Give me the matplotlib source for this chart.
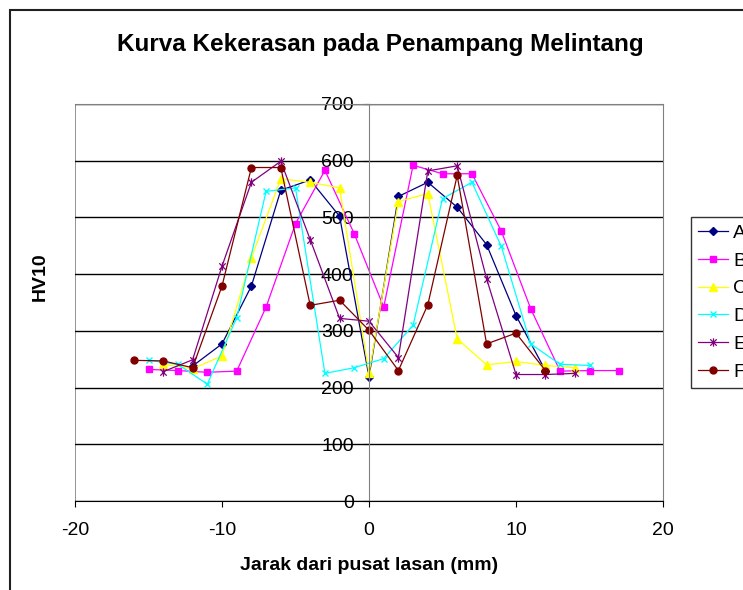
import numpy as np
import matplotlib
matplotlib.use("Agg")
import matplotlib.pyplot as plt
from matplotlib.path import Path
from matplotlib.patches import Rectangle

plt.rcParams['font.family'] = ['Liberation Sans', 'DejaVu Sans']
plt.rcParams['axes.unicode_minus'] = False

# hardness readings (HV10) vs distance from weld centre (mm)
x_a = [-12, -10, -8, -6, -4, -2, 0, 2, 4, 6, 8, 10, 12]
hv_a = [238, 277, 379, 548, 566, 502, 219, 537, 562, 518, 452, 327, 230]

x_b = [-15, -13, -11, -9, -7, -5, -3, -1, 1, 3, 5, 7, 9, 11, 13, 15, 17]
hv_b = [232, 230, 227, 229, 342, 489, 583, 471, 342, 592, 577, 577, 476, 339, 229, 230, 230]

x_c = [-14, -12, -10, -8, -6, -4, -2, 0, 2, 4, 6, 8, 10, 12, 14]
hv_c = [241, 233, 256, 429, 568, 562, 552, 225, 528, 542, 286, 240, 246, 239, 235]

x_d = [-15, -13, -11, -9, -7, -5, -3, -1, 1, 3, 5, 7, 9, 11, 13, 15]
hv_d = [248, 241, 206, 323, 546, 552, 225, 235, 251, 310, 533, 562, 449, 277, 241, 239]

x_e = [-14, -12, -10, -8, -6, -4, -2, 0, 2, 4, 6, 8, 10, 12, 14]
hv_e = [228, 249, 414, 562, 599, 461, 322, 317, 253, 582, 591, 392, 223, 223, 225]

x_f = [-16, -14, -12, -10, -8, -6, -4, -2, 0, 2, 4, 6, 8, 10, 12]
hv_f = [248, 247, 235, 379, 588, 588, 345, 354, 301, 230, 346, 574, 277, 296, 230]

# excel style asterisk marker: x with a vertical bar
star = Path([(-1, -1), (1, 1), (-1, 1), (1, -1), (0, -1.3), (0, 1.3)],
            [Path.MOVETO, Path.LINETO, Path.MOVETO, Path.LINETO, Path.MOVETO, Path.LINETO])

W, H = 743, 590
fig = plt.figure(figsize=(W / 100, H / 100), dpi=100)
ax = fig.add_axes([75 / W, 1 - 501 / H, (663 - 75) / W, (501 - 104) / H])

lw = 0.9
ax.plot(x_a, hv_a, color='#000080', marker='D', ms=4, lw=lw, label='A')
ax.plot(x_b, hv_b, color='#FF00FF', marker='s', ms=5, lw=lw, label='B')
ax.plot(x_c, hv_c, color='#FFFF00', marker='^', ms=6, lw=lw, label='C')
ax.plot(x_d, hv_d, color='#00FFFF', marker='x', ms=5, mew=1, lw=lw, label='D')
ax.plot(x_e, hv_e, color='#800080', marker=star, ms=6, mew=0.9, lw=lw, label='E')
ax.plot(x_f, hv_f, color='#800000', marker='o', ms=5, lw=lw, label='F')

ax.set_xlim(-20, 20)
ax.set_ylim(0, 700)
ax.set_xticks([-20, -10, 0, 10, 20])
ax.set_yticks(np.arange(0, 701, 100))
ax.yaxis.grid(True, color='black', lw=1)
ax.set_axisbelow(True)

ax.spines['left'].set_position(('data', 0))
ax.spines['left'].set_color('#808080')
ax.spines['right'].set_color('#808080')
ax.spines['top'].set_color('#808080')
ax.spines['bottom'].set_color('black')
ax.axvline(-20, color='#808080', lw=1.2, zorder=0)

ax.tick_params(axis='x', direction='out', length=4, pad=11, labelsize=14)
ax.tick_params(axis='y', direction='out', length=4, pad=7, labelsize=14, color='black')

fig.text(380 / W, 1 - 44 / H, 'Kurva Kekerasan pada Penampang Melintang',
         ha='center', va='center', fontsize=17.5, fontweight='bold')
fig.text(369 / W, 1 - 566 / H, 'Jarak dari pusat lasan (mm)',
         ha='center', va='center', fontsize=14, fontweight='bold')
fig.text(40 / W, 1 - 277 / H, 'HV10', rotation=90,
         ha='center', va='center', fontsize=14, fontweight='bold')

leg = fig.legend(loc='upper left', bbox_to_anchor=(691 / W, 1 - 217 / H),
                 frameon=True, fancybox=False, fontsize=14, borderpad=0.38,
                 labelspacing=0.52, handlelength=1.5, handletextpad=0.3,
                 borderaxespad=0)
leg.get_frame().set_edgecolor('black')
leg.get_frame().set_linewidth(1)

# chart area border
fig.patches.append(Rectangle((10 / W, -0.1), 1.2, 1 - 10 / H + 0.1, transform=fig.transFigure,
                             fill=False, ec='#202020', lw=1.5))

fig.savefig('out.png', dpi=100)
plt.close(fig)
